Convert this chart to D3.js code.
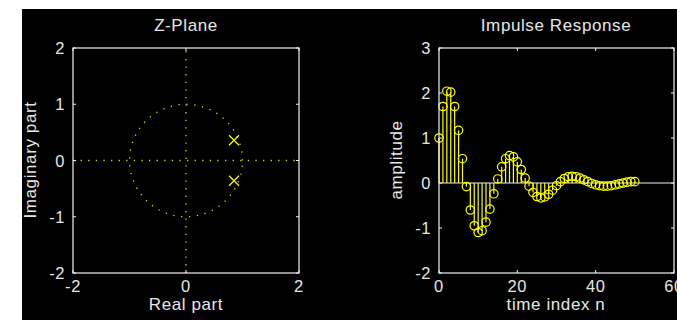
<!DOCTYPE html>
<html><head><meta charset="utf-8">
<script src="https://cdn.jsdelivr.net/npm/d3@7"></script>
<style>
html,body{margin:0;padding:0;background:#fff;}
svg{display:block;}
text{font-family:"Liberation Sans",Arial,sans-serif;fill:#e6e6e6;letter-spacing:0.6px;}
</style></head><body>
<svg id="c" width="677" height="320"></svg>
<script>
// ---- data ----
const poleRe = [0.85, 0.85];
const poleIm = [0.36, -0.36];
const zTicks = [-2, -1, 0, 1, 2];
const zXTicks = [-2, 0, 2];
const nIndex = d3.range(0, 51);
const amplitude = [1.00, 1.70, 2.04, 2.02, 1.70, 1.17, 0.54, -0.08, -0.60, -0.95,
  -1.10, -1.06, -0.87, -0.58, -0.24, 0.09, 0.36, 0.54, 0.61, 0.58,
  0.47, 0.30, 0.11, -0.07, -0.21, -0.30, -0.33, -0.31, -0.25, -0.16,
  -0.06, 0.03, 0.10, 0.14, 0.15, 0.14, 0.11, 0.07, 0.03, -0.01,
  -0.04, -0.06, -0.07, -0.07, -0.06, -0.04, -0.02, 0.00, 0.02, 0.03, 0.03];
const hXTicks = [0, 20, 40, 60];
const hYTicks = [-2, -1, 0, 1, 2, 3];

const svg = d3.select("#c");
svg.append("rect").attr("x", 22).attr("y", 9).attr("width", 655).attr("height", 311).attr("fill", "#000");

const YEL = "#ffff00", AX = "#f0f0f0", FS = 17, TFS = 16.5;
const fmt = d => (d < 0 ? "-" : "") + Math.abs(d);

function frame(g, x, y, xt, yt, xtAll) {
  const [X0, X1] = x.range(), [Y1, Y0] = y.range();
  const tl = 3;
  xtAll.forEach(t => {
    g.append("line").attr("x1", x(t)).attr("x2", x(t)).attr("y1", Y1).attr("y2", Y1 - tl).attr("stroke", AX);
    g.append("line").attr("x1", x(t)).attr("x2", x(t)).attr("y1", Y0).attr("y2", Y0 + tl).attr("stroke", AX);
  });
  yt.forEach(t => {
    g.append("line").attr("y1", y(t)).attr("y2", y(t)).attr("x1", X0).attr("x2", X0 + tl).attr("stroke", AX);
    g.append("line").attr("y1", y(t)).attr("y2", y(t)).attr("x1", X1).attr("x2", X1 - tl).attr("stroke", AX);
  });
  g.append("rect").attr("x", X0).attr("y", Y0).attr("width", X1 - X0).attr("height", Y1 - Y0)
    .attr("fill", "none").attr("stroke", AX).attr("stroke-width", 1.2);
  xt.forEach(t => g.append("text").attr("x", x(t)).attr("y", Y1 + 19).attr("text-anchor", "middle")
    .attr("font-size", TFS).text(fmt(t)));
  yt.forEach(t => g.append("text").attr("x", X0 - 8).attr("y", y(t) + 6).attr("text-anchor", "end")
    .attr("font-size", TFS).text(fmt(t)));
}

// ---- Z-plane ----
const zx = d3.scaleLinear().domain([-2, 2]).range([73, 299]);
const zy = d3.scaleLinear().domain([-2, 2]).range([273, 48]);
const g1 = svg.append("g");
const dots = "1.3 6.3";
g1.append("line").attr("x1", zx(-2)).attr("x2", zx(2)).attr("y1", zy(0)).attr("y2", zy(0))
  .attr("stroke", YEL).attr("stroke-width", 1.3).attr("stroke-dasharray", dots).attr("opacity", 0.85);
g1.append("line").attr("y1", zy(-2)).attr("y2", zy(2)).attr("x1", zx(0)).attr("x2", zx(0))
  .attr("stroke", YEL).attr("stroke-width", 1.3).attr("stroke-dasharray", dots).attr("opacity", 0.85);
const circ = d3.range(0, 101).map(i => [Math.cos(2 * Math.PI * i / 100), Math.sin(2 * Math.PI * i / 100)]);
g1.append("path").attr("d", d3.line().x(d => zx(d[0])).y(d => zy(d[1]))(circ))
  .attr("fill", "none").attr("stroke", YEL).attr("stroke-width", 1.3).attr("stroke-dasharray", "1.3 6.6").attr("opacity", 0.85);
poleRe.forEach((re, i) => {
  const cx = zx(re), cy = zy(poleIm[i]), s = 5;
  g1.append("path").attr("d", `M${cx - s},${cy - s}L${cx + s},${cy + s}M${cx - s},${cy + s}L${cx + s},${cy - s}`)
    .attr("stroke", YEL).attr("stroke-width", 1.2);
});
frame(g1, zx, zy, zXTicks, zTicks, zXTicks);
g1.append("text").attr("x", 186).attr("y", 31).attr("text-anchor", "middle").attr("font-size", FS).text("Z-Plane");
g1.append("text").attr("x", 186).attr("y", 310).attr("text-anchor", "middle").attr("font-size", FS).text("Real part");
g1.append("text").attr("transform", "translate(36,160) rotate(-90)").attr("text-anchor", "middle").attr("font-size", FS).text("Imaginary part");

// ---- Impulse response ----
const hx = d3.scaleLinear().domain([0, 60]).range([439, 674]);
const hy = d3.scaleLinear().domain([-2, 3]).range([273, 48]);
const g2 = svg.append("g");
g2.selectAll("line.stem").data(nIndex).enter().append("line")
  .attr("x1", d => hx(d)).attr("x2", d => hx(d)).attr("y1", hy(0)).attr("y2", d => hy(amplitude[d]))
  .attr("stroke", YEL).attr("stroke-width", 1.2);
g2.append("line").attr("x1", hx(0)).attr("x2", hx(60)).attr("y1", hy(0)).attr("y2", hy(0)).attr("stroke", AX).attr("stroke-width", 1.2);
g2.selectAll("circle").data(nIndex).enter().append("circle")
  .attr("cx", d => hx(d)).attr("cy", d => hy(amplitude[d])).attr("r", 4.2)
  .attr("fill", "none").attr("stroke", YEL).attr("stroke-width", 1.2);
frame(g2, hx, hy, hXTicks, hYTicks, hXTicks);
g2.append("text").attr("x", 556).attr("y", 31).attr("text-anchor", "middle").attr("font-size", FS).text("Impulse Response");
g2.append("text").attr("x", 556).attr("y", 310).attr("text-anchor", "middle").attr("font-size", FS).text("time index n");
g2.append("text").attr("transform", "translate(402,160) rotate(-90)").attr("text-anchor", "middle").attr("font-size", FS).text("amplitude");
</script>
</body></html>
